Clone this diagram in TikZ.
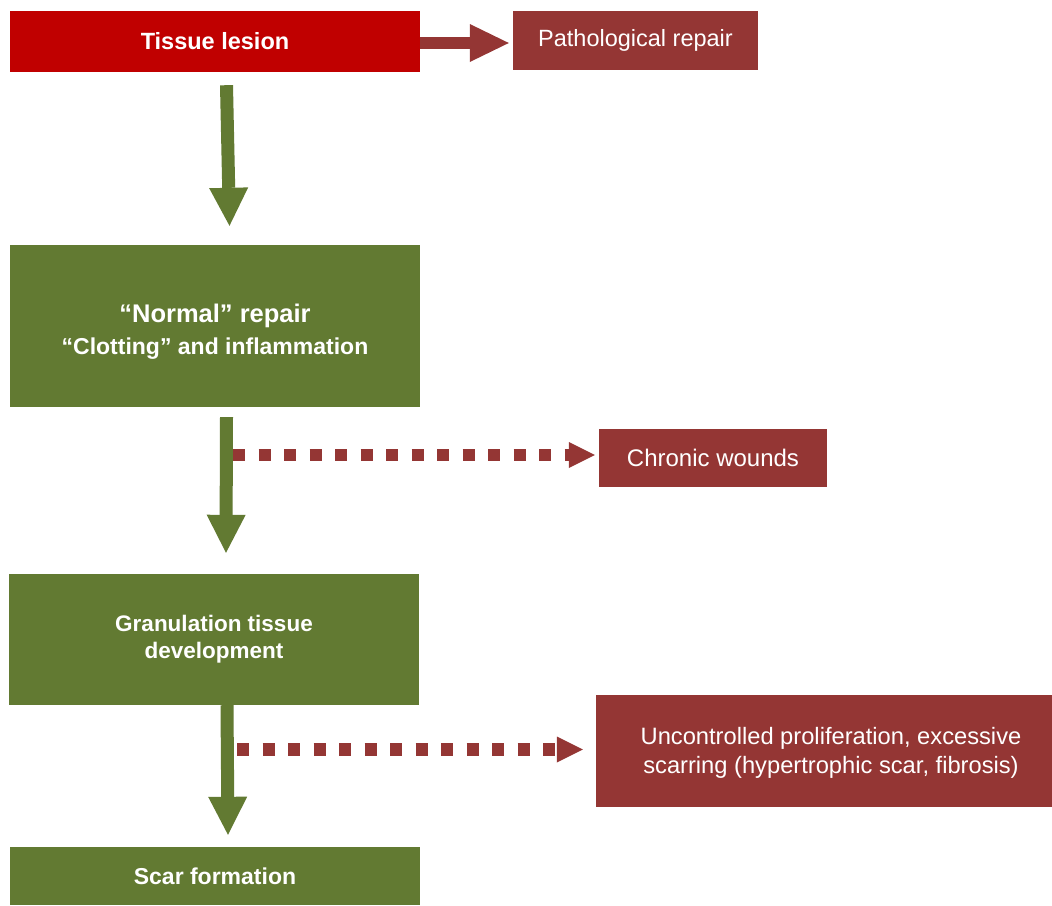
\documentclass[tikz,border=0pt]{standalone}
\usepackage{fontspec}
\setmainfont{Liberation Sans}
\usetikzlibrary{arrows.meta,calc}
\definecolor{lesionred}{HTML}{C00000}
\definecolor{brick}{HTML}{943634}
\definecolor{olive}{HTML}{627A32}
\tikzset{
  box/.style={rectangle, inner sep=0pt, text=white, align=center},
  greenbox/.style={box, fill=olive, font=\bfseries\fontsize{23}{27.5}\selectfont},
  brickbox/.style={box, fill=brick, font=\fontsize{23.5}{29}\selectfont},
  boxtext/.style={text=white, align=center, inner sep=0pt},
  garrow/.style={draw=olive, line width=13pt, line cap=butt,
    -{Triangle[length=38pt,width=39pt,line width=0pt]}, color=olive},
  rarrow/.style={draw=brick, line width=12pt, line cap=butt,
    -{Triangle[length=39pt,width=38pt,line width=0pt]}, color=brick},
  dotarrow/.style={draw=brick, line width=12.5pt, line cap=butt,
    dash pattern=on 12pt off 13.5pt,
    -{Triangle[length=26pt,width=26pt,line width=0pt]}, color=brick},
}
\begin{document}
\begin{tikzpicture}[x=1pt,y=-1pt]
\useasboundingbox (0,0) rectangle (1052,905);
% boxes
\node[box, fill=lesionred, minimum width=410pt, minimum height=61pt,
  font=\bfseries\fontsize{23.5}{28}\selectfont] (lesion) at (215,41.5) {Tissue lesion};
\node[brickbox, minimum width=245pt, minimum height=59pt] (patho) at (635.5,40.5) {Pathological repair};
\node[greenbox, minimum width=410pt, minimum height=162pt] (normal) at (215,326) {};
\node[boxtext, font=\bfseries] (normaltext) at (215,332)
  {{\fontsize{25.5}{30}\selectfont “Normal” repair}\\[9pt]{\fontsize{23}{27}\selectfont “Clotting” and inflammation}};
\node[brickbox, minimum width=228pt, minimum height=58pt, font=\fontsize{24}{29}\selectfont] (chronic) at (713,458) {Chronic wounds};
\node[greenbox, minimum width=410pt, minimum height=131pt, font=\bfseries\fontsize{22.5}{27}\selectfont] (gran) at (214,639.5)
  {Granulation tissue\\development};
\node[brickbox, minimum width=456pt, minimum height=112pt] (uncon) at (824,751) {};
\node[boxtext, font=\fontsize{23.7}{29}\selectfont] (untext) at (831,753)
  {Uncontrolled proliferation, excessive\\scarring (hypertrophic scar, fibrosis)};
\node[greenbox, minimum width=410pt, minimum height=58pt] (scar) at (215,876) {Scar formation};
% connectors
\draw[rarrow, shorten >=4pt] ([yshift=-1.5pt]lesion.east) -- ([yshift=-2.5pt]patho.west);
\draw[garrow] ([xshift=11.5pt,yshift=-13pt]lesion.south) -- ([xshift=14.5pt,yshift=19pt]normal.north);
\draw[garrow] ([xshift=11.5pt,yshift=-10pt]normal.south) -- ([xshift=12pt,yshift=21pt]gran.north);
\draw[garrow] ([xshift=13pt]gran.south) -- ([xshift=13pt,yshift=12pt]scar.north);
\coordinate (d1) at (233,455);
\coordinate (d2) at (237,749.5);
\draw[dotarrow, shorten >=4pt] (d1) -- (chronic.west |- d1);
\draw[dotarrow, shorten >=13pt] (d2) -- (uncon.west |- d2);
\end{tikzpicture}
\end{document}
